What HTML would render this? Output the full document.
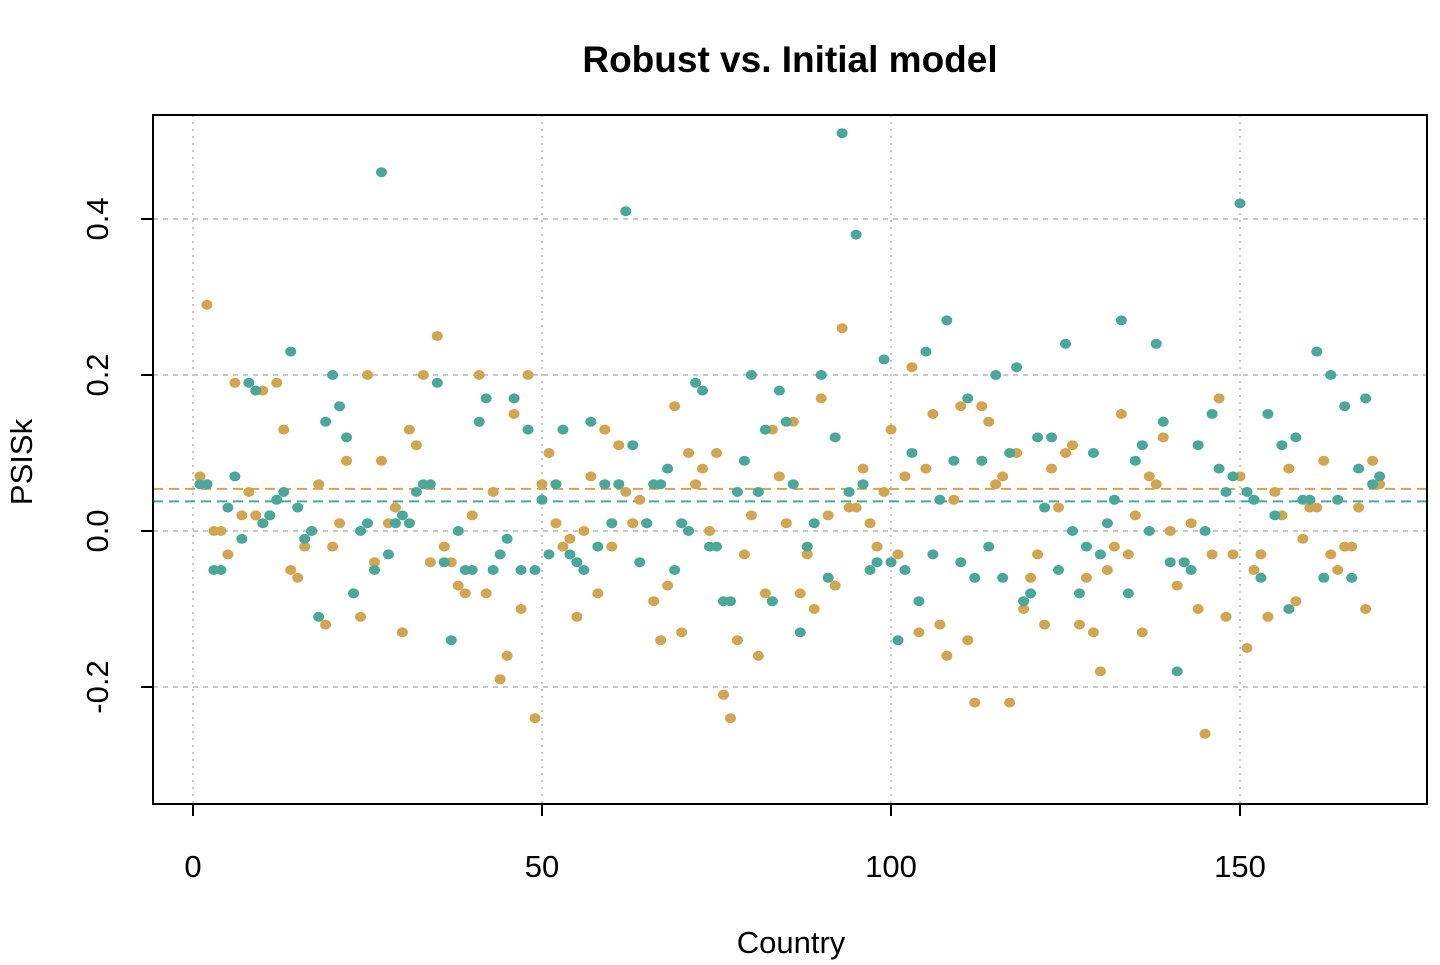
<!DOCTYPE html>
<html><head><meta charset="utf-8"><style>
body{margin:0;background:#fff;}
svg text{font-family:"Liberation Sans",Arial,sans-serif;fill:#000;}
</style></head><body>
<svg id="chart" width="1440" height="960" xmlns="http://www.w3.org/2000/svg">
<text x="790" y="72" font-size="37" font-weight="bold" text-anchor="middle">Robust vs. Initial model</text>
<text x="791" y="953" font-size="31" text-anchor="middle">Country</text>
<text transform="translate(32,462) rotate(-90)" font-size="31" text-anchor="middle">PSISk</text>
<g id="grid"></g>
<g id="means"></g>
<g id="pts"></g>
<g id="axes"></g>
<rect x="153" y="115" width="1274" height="689" fill="none" stroke="#000" stroke-width="2"/>
</svg>
<script>
const xTicks=[0,50,100,150];
const yTicks=[-0.2,0.0,0.2,0.4];
const yTickLabels=["-0.2","0.0","0.2","0.4"];
const robust=[0.06,0.06,-0.05,-0.05,0.03,0.07,-0.01,0.19,0.18,0.01,0.02,0.04,0.05,0.23,0.03,-0.01,0.00,-0.11,0.14,0.20,0.16,0.12,-0.08,0.00,0.01,-0.05,0.46,-0.03,0.01,0.02,0.01,0.05,0.06,0.06,0.19,-0.04,-0.14,0.00,-0.05,-0.05,0.14,0.17,-0.05,-0.03,-0.01,0.17,-0.05,0.13,-0.05,0.04,-0.03,0.06,0.13,-0.03,-0.04,-0.05,0.14,-0.02,0.06,0.01,0.06,0.41,0.11,-0.04,0.01,0.06,0.06,0.08,-0.05,0.01,0.00,0.19,0.18,-0.02,-0.02,-0.09,-0.09,0.05,0.09,0.20,0.05,0.13,-0.09,0.18,0.14,0.06,-0.13,-0.02,0.01,0.20,-0.06,0.12,0.51,0.05,0.38,0.06,-0.05,-0.04,0.22,-0.04,-0.14,-0.05,0.10,-0.09,0.23,-0.03,0.04,0.27,0.09,-0.04,0.17,-0.06,0.09,-0.02,0.20,-0.06,0.10,0.21,-0.09,-0.08,0.12,0.03,0.12,-0.05,0.24,0.00,-0.08,-0.02,0.10,-0.03,0.01,0.04,0.27,-0.08,0.09,0.11,0.00,0.24,0.14,-0.04,-0.18,-0.04,-0.05,0.11,0.00,0.15,0.08,0.05,0.07,0.42,0.05,0.04,-0.06,0.15,0.02,0.11,-0.10,0.12,0.04,0.04,0.23,-0.06,0.20,0.04,0.16,-0.06,0.08,0.17,0.06,0.07];
const initial=[0.07,0.29,0.00,0.00,-0.03,0.19,0.02,0.05,0.02,0.18,0.02,0.19,0.13,-0.05,-0.06,-0.02,0.00,0.06,-0.12,-0.02,0.01,0.09,-0.08,-0.11,0.20,-0.04,0.09,0.01,0.03,-0.13,0.13,0.11,0.20,-0.04,0.25,-0.02,-0.04,-0.07,-0.08,0.02,0.20,-0.08,0.05,-0.19,-0.16,0.15,-0.10,0.20,-0.24,0.06,0.10,0.01,-0.02,-0.01,-0.11,0.00,0.07,-0.08,0.13,-0.02,0.11,0.05,0.01,0.04,0.01,-0.09,-0.14,-0.07,0.16,-0.13,0.10,0.06,0.08,0.00,0.10,-0.21,-0.24,-0.14,-0.03,0.02,-0.16,-0.08,0.13,0.07,0.01,0.14,-0.08,-0.03,-0.10,0.17,0.02,-0.07,0.26,0.03,0.03,0.08,0.01,-0.02,0.05,0.13,-0.03,0.07,0.21,-0.13,0.08,0.15,-0.12,-0.16,0.04,0.16,-0.14,-0.22,0.16,0.14,0.06,0.07,-0.22,0.10,-0.10,-0.06,-0.03,-0.12,0.08,0.03,0.10,0.11,-0.12,-0.06,-0.13,-0.18,-0.05,-0.02,0.15,-0.03,0.02,-0.13,0.07,0.06,0.12,0.00,-0.07,-0.04,0.01,-0.10,-0.26,-0.03,0.17,-0.11,-0.03,0.07,-0.15,-0.05,-0.03,-0.11,0.05,0.02,0.08,-0.09,-0.01,0.03,0.03,0.09,-0.03,-0.05,-0.02,-0.02,0.03,-0.10,0.09,0.06];
const meanRobust=0.038;
const meanInitial=0.054;
const NS="http://www.w3.org/2000/svg";
const X=v=>193+v*6.98;
const Y=v=>531-v*780;
function mk(tag,attrs,parent){const e=document.createElementNS(NS,tag);for(const k in attrs)e.setAttribute(k,attrs[k]);parent.appendChild(e);return e;}
const grid=document.getElementById('grid'),axes=document.getElementById('axes'),pts=document.getElementById('pts'),means=document.getElementById('means');
xTicks.forEach(t=>{
 const l=mk('line',{x1:X(t),x2:X(t),y1:115,y2:804,stroke:'#c8c8c8','stroke-width':2,'stroke-dasharray':'2 5'},grid);
 
 
 const tk=mk('line',{x1:X(t),x2:X(t),y1:804,y2:816,stroke:'#000','stroke-width':2},axes);
 
 
 const tx=mk('text',{x:X(t),y:877,'font-size':31,'text-anchor':'middle'},axes);
 tx.textContent=String(t);
 
 
});
yTicks.forEach((t,i)=>{
 const l=mk('line',{x1:153,x2:1427,y1:Y(t),y2:Y(t),stroke:'#c8c8c8','stroke-width':2,'stroke-dasharray':'5 5'},grid);
 
 
 const tk=mk('line',{x1:141,x2:153,y1:Y(t),y2:Y(t),stroke:'#000','stroke-width':2},axes);
 
 
 const tx=mk('text',{transform:`translate(108,${Y(t)}) rotate(-90)`,'font-size':31,'text-anchor':'middle'},axes);
 tx.textContent=yTickLabels[i];
 
 
});
const m1=mk('line',{x1:153,x2:1427,y1:Y(meanInitial),y2:Y(meanInitial),stroke:'#d2a650','stroke-width':2,'stroke-dasharray':'10 6'},means);


const m2=mk('line',{x1:153,x2:1427,y1:Y(meanRobust),y2:Y(meanRobust),stroke:'#4aa89b','stroke-width':2,'stroke-dasharray':'10 6'},means);


initial.forEach((v,i)=>{
 const c=mk('ellipse',{cx:X(i+1),cy:Y(v),rx:5.5,ry:5,fill:'#d2a650'},pts);
 
 
});
robust.forEach((v,i)=>{
 const c=mk('ellipse',{cx:X(i+1),cy:Y(v),rx:5.5,ry:5,fill:'#4aa89b'},pts);
 
 
});
</script>
</body></html>
